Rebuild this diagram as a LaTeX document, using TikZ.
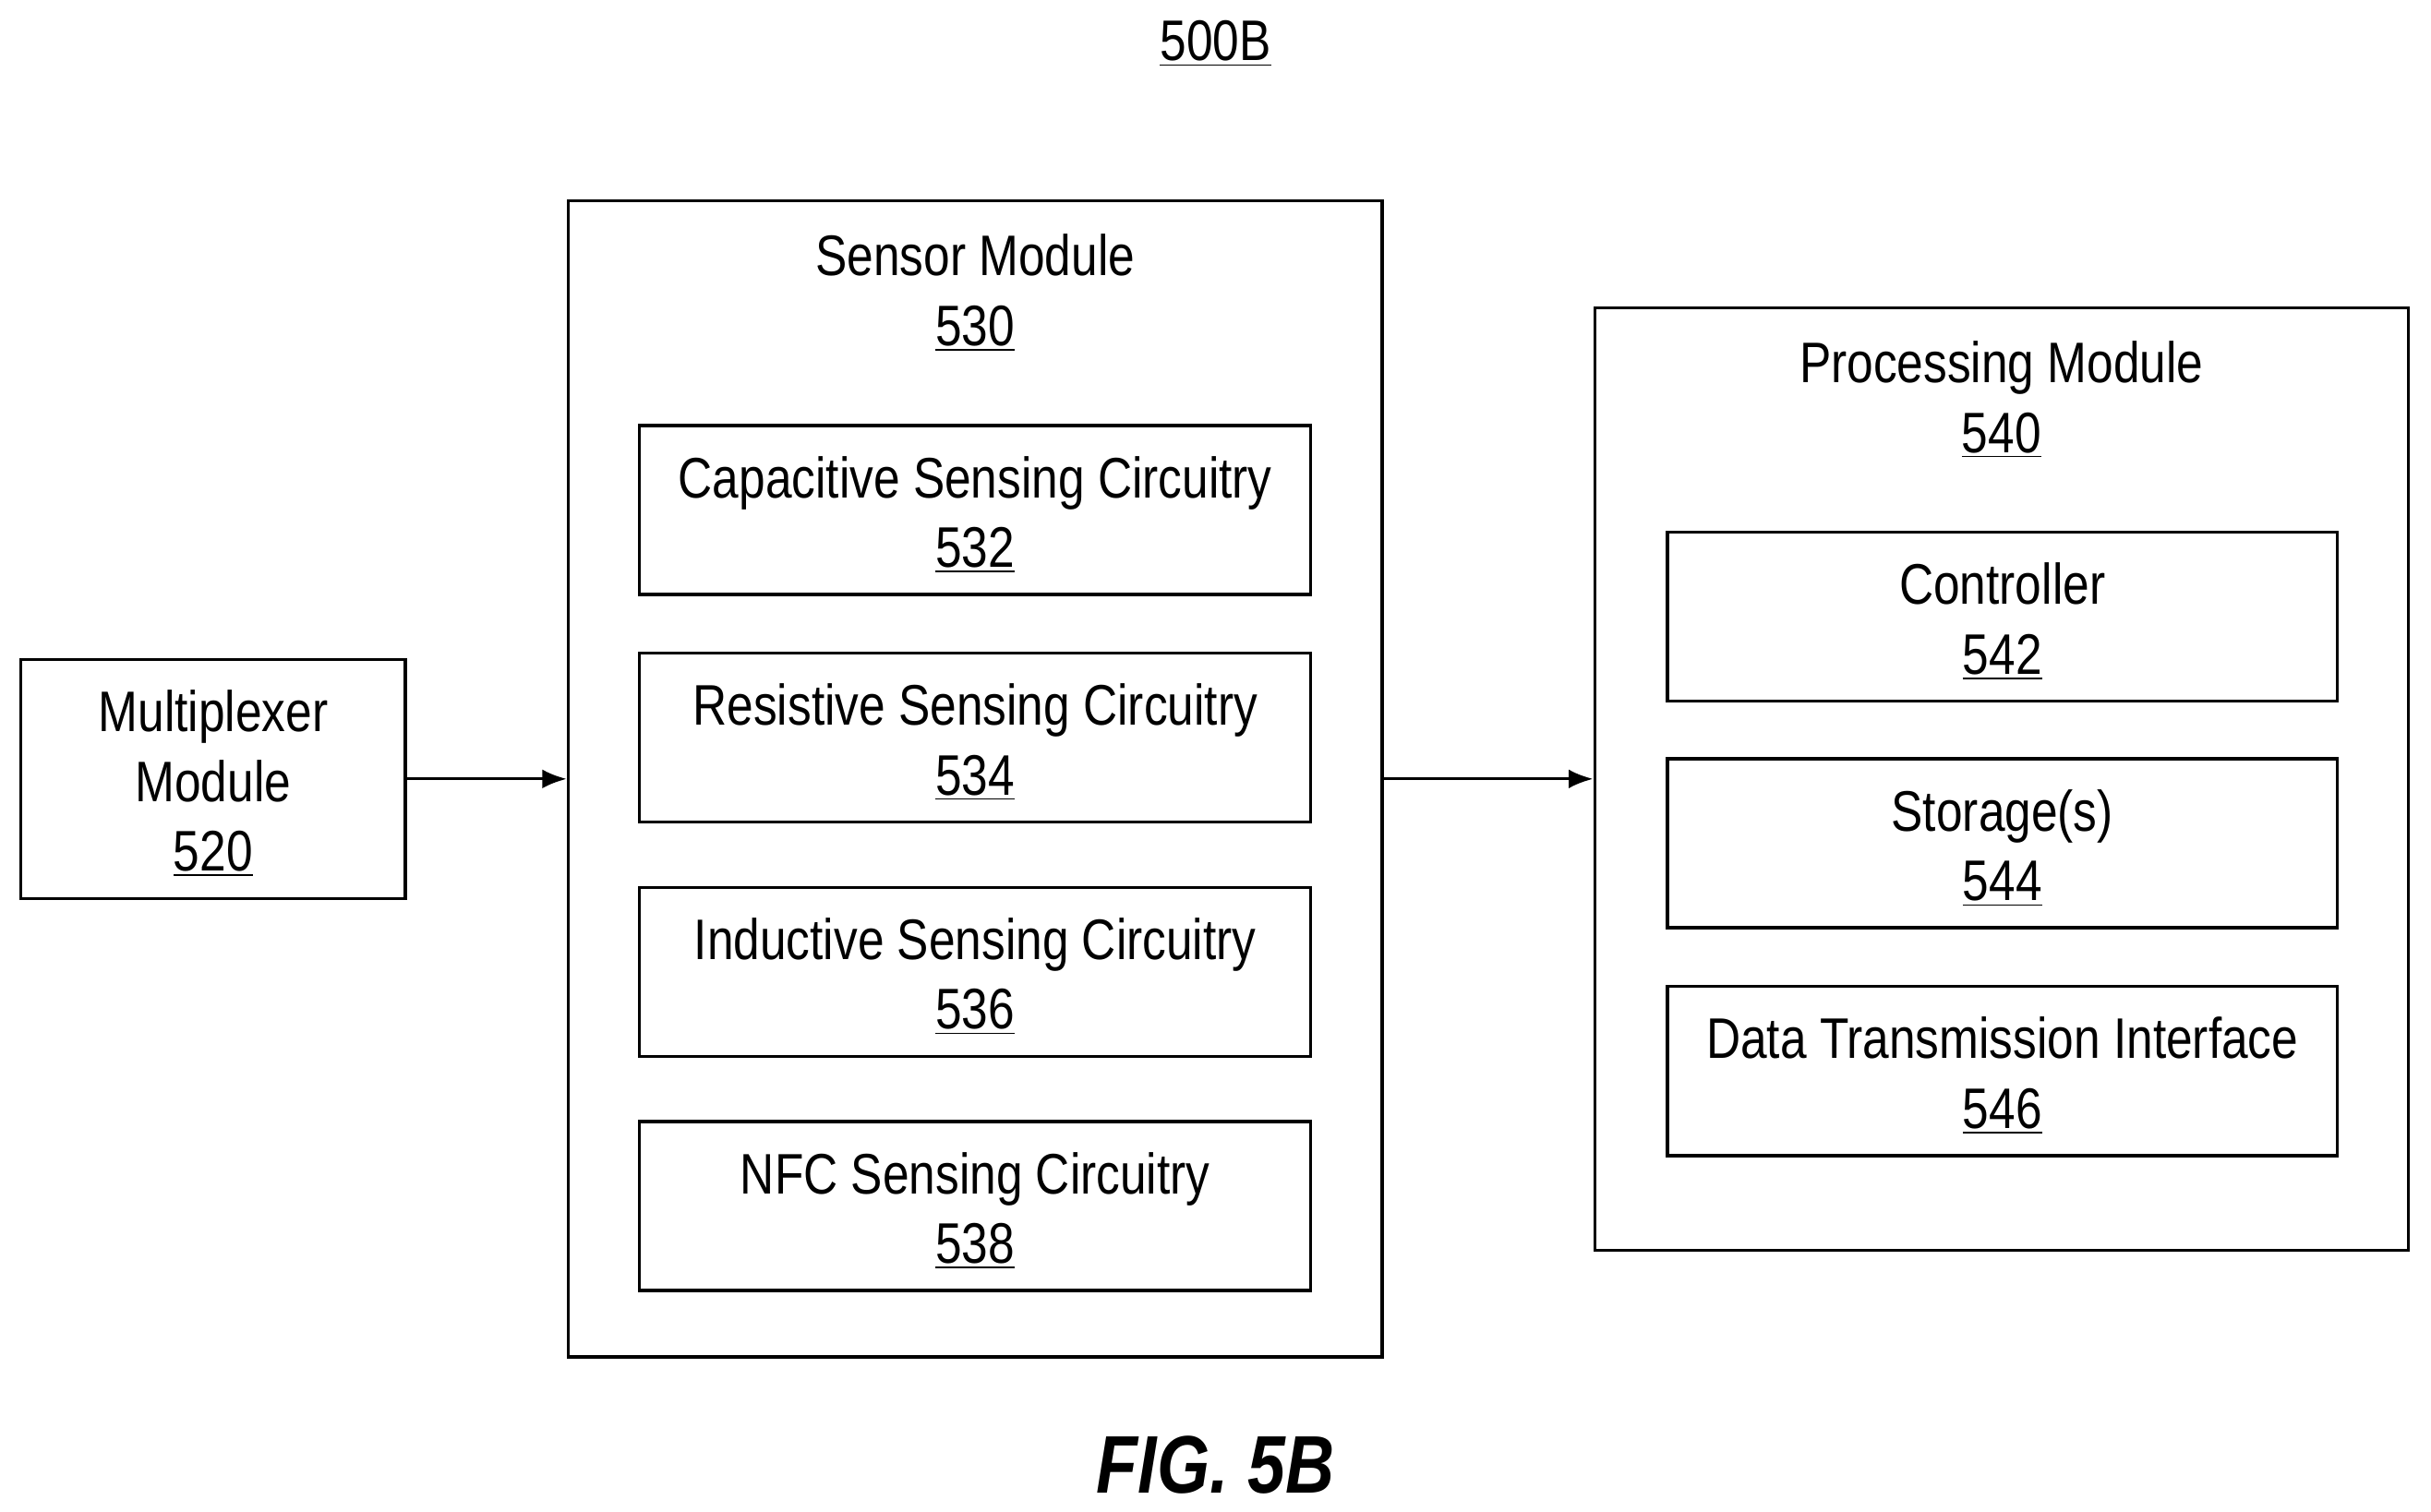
\documentclass[tikz,border=0pt]{standalone}
\usepackage{fontspec}
\setmainfont{Liberation Sans}[FakeStretch=0.83]
\begin{document}
\begin{tikzpicture}[x=0.02cm,y=-0.02cm,
  box/.style={draw,line width=1.1pt,inner sep=0pt},
  txt/.style={align=center,font=\fontsize{21}{25.5}\selectfont,inner sep=0pt},
  arr/.style={line width=1.1pt,-{Latex[length=9pt,width=7pt]}}]
\useasboundingbox (0,0) rectangle (1568,975);
\usetikzlibrary{arrows.meta}
\newcommand{\bx}[6]{\node[box,minimum width=#4*0.02cm-0.02cm,minimum height=#5*0.02cm-0.02cm] (#1) at ({(#2+#4/2)},{(#3+#5/2)}) {};
 \node[txt] at ([yshift=-0.06cm]#1.center) {#6};}
\node[txt] (t500) at (784,28) {\underline{500B}};
\bx{mux}{13}{425}{249}{155}{Multiplexer\\Module\\\underline{520}}
\node[box,minimum width=10.5cm,minimum height=14.92cm] (sm) at (629,502.5) {};
\node[txt] (smt) at (629,189) {Sensor Module\\\underline{530}};
\bx{c1}{412}{274}{434}{110}{Capacitive Sensing Circuitry\\\underline{532}}
\bx{c2}{412}{421}{434}{110}{Resistive Sensing Circuitry\\\underline{534}}
\bx{c3}{412}{572}{434}{110}{Inductive Sensing Circuitry\\\underline{536}}
\bx{c4}{412}{723}{434}{110}{NFC Sensing Circuitry\\\underline{538}}
\node[box,minimum width=10.5cm,minimum height=12.16cm] (pm) at (1291,502.5) {};
\node[txt] (pmt) at (1291,258) {Processing Module\\\underline{540}};
\bx{p1}{1075}{343}{433}{110}{Controller\\\underline{542}}
\bx{p2}{1075}{489}{433}{110}{Storage(s)\\\underline{544}}
\bx{p3}{1075}{636}{433}{110}{Data Transmission Interface\\\underline{546}}
\draw[arr] (mux.east) -- (sm.west);
\draw[arr] (sm.east) -- (pm.west);
\node[txt,font=\fontsize{30}{34}\selectfont\bfseries\itshape] (fig) at (784,945) {FIG. 5B};
\end{tikzpicture}
\end{document}
